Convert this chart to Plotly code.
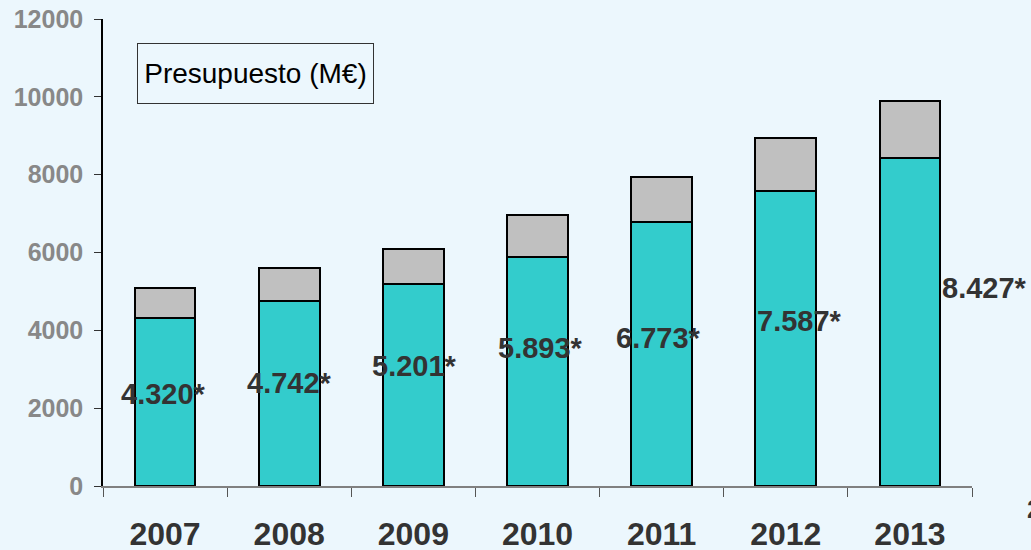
import plotly.graph_objects as go

years = ["2007", "2008", "2009", "2010", "2011", "2012", "2013"]
budget_main = [4320, 4742, 5201, 5893, 6773, 7587, 8427]
budget_extra = [780, 858, 899, 1070, 1170, 1360, 1470]
value_labels = ["4.320*", "4.742*", "5.201*", "5.893*", "6.773*", "7.587*", "8.427*"]

# label placement (data y, pixel x shift)
label_y = [2364, 2647, 3083, 3546, 3803, 4240, 5088]
label_dx = [-2, 0, 1, 3, -3, 14, 75]

BG = "#ECF7FD"

fig = go.Figure()
fig.add_trace(go.Bar(x=years, y=budget_main, width=0.49,
                     marker=dict(color="#33CCCC", line=dict(color="#000000", width=2)),
                     hoverinfo="skip"))
fig.add_trace(go.Bar(x=years, y=budget_extra, width=0.49,
                     marker=dict(color="#C0C0C0", line=dict(color="#000000", width=2)),
                     hoverinfo="skip"))

for i, (txt, ly, dx) in enumerate(zip(value_labels, label_y, label_dx)):
    fig.add_annotation(x=i, y=ly, text=txt, showarrow=False, xshift=dx,
                       font=dict(family="Liberation Sans, Arial, sans-serif", size=29,
                                 color="#333333", weight="bold"))

fig.add_annotation(xref="paper", yref="paper", x=(137 - 103) / 869, y=(486 - 43) / 467,
                   xanchor="left", yanchor="top", text="Presupuesto (M€)", showarrow=False,
                   width=233, height=57, borderpad=1, bordercolor="#333333", borderwidth=1,
                   bgcolor=BG,
                   font=dict(family="Liberation Sans Narrow, Arial Narrow, Liberation Sans, sans-serif",
                             size=28, color="#000000"))

fig.add_annotation(xref="paper", yref="paper", x=(1025 - 103) / 869, y=(486 - 492) / 467,
                   xanchor="left", yanchor="top", text="2", showarrow=False,
                   font=dict(family="Liberation Sans, Arial, sans-serif", size=26,
                             color="#333333", weight="bold"))

fig.update_layout(
    barmode="stack",
    width=1031, height=550,
    margin=dict(l=103, r=59, t=19, b=64),
    paper_bgcolor=BG, plot_bgcolor=BG,
    showlegend=False,
)
fig.update_xaxes(type="category", range=[-0.5, 6.5], tickson="boundaries", ticks="outside",
                 ticklen=9, tickcolor="#555555", showline=True, linecolor="#808080",
                 linewidth=1.5, showgrid=False, ticklabelstandoff=19, tickangle=0,
                 automargin=False,
                 tickfont=dict(family="Liberation Sans, Arial, sans-serif", size=32,
                               color="#333333", weight="bold"))
fig.update_yaxes(range=[0, 12000], dtick=2000, tickformat="d", ticks="outside", ticklen=7,
                 tickcolor="#333333", showline=True, linecolor="#000000", linewidth=1.5,
                 showgrid=False, zeroline=False, ticklabelstandoff=6, automargin=False,
                 tickfont=dict(family="Liberation Sans, Arial, sans-serif", size=25,
                               color="#888888", weight="bold"))

fig.write_html("out.html", config={"displayModeBar": False},
               post_script="document.body.style.margin='0';document.body.style.background='%s';" % BG)
